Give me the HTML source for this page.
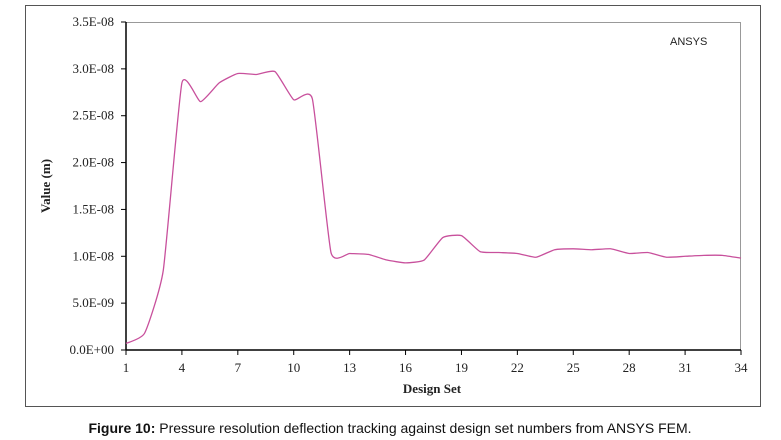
<!DOCTYPE html>
<html><head><meta charset="utf-8"><style>
body{margin:0;background:#fff;width:781px;height:440px;overflow:hidden}
svg{display:block}
.t{font-family:"Liberation Serif",serif;font-size:13px;fill:#222}
</style></head><body>
<svg width="781" height="440" xmlns="http://www.w3.org/2000/svg">
<rect x="25.5" y="5.5" width="735" height="401" fill="none" stroke="#555" stroke-width="1"/>
<line x1="126" y1="22.5" x2="741" y2="22.5" stroke="#999"/>
<line x1="740.5" y1="22" x2="740.5" y2="350" stroke="#999"/>
<line x1="126" y1="22" x2="126" y2="350" stroke="#000" stroke-width="1.5"/>
<line x1="126" y1="350" x2="741" y2="350" stroke="#000" stroke-width="1.5"/>
<g id="ax"></g>
<path id="curve" fill="none" stroke="#c8509c" stroke-width="1.3"/>
<text x="670" y="45" font-family="Liberation Sans,sans-serif" font-size="11" fill="#222">ANSYS</text>
<text x="432" y="393" class="t" font-weight="bold" text-anchor="middle">Design Set</text>
<text transform="translate(50,186) rotate(-90)" class="t" font-weight="bold" text-anchor="middle" font-size="12">Value (m)</text>
<text x="390" y="433" font-family="Liberation Sans,sans-serif" font-size="14" fill="#111" text-anchor="middle"><tspan font-weight="bold">Figure 10:</tspan> Pressure resolution deflection tracking against design set numbers from ANSYS FEM.</text>
</svg>
<script>
var ax=document.getElementById('ax'),s='';
var ylab=['0.0E+00','5.0E-09','1.0E-08','1.5E-08','2.0E-08','2.5E-08','3.0E-08','3.5E-08'];
for(var i=0;i<8;i++){var y=350-i*46.857;s+='<line x1="121" x2="126" y1="'+y+'" y2="'+y+'" stroke="#000"/><text class="t" x="114" y="'+(y+4)+'" text-anchor="end">'+ylab[i]+'</text>';}
function X(n){return 126+(n-1)*615/33;}
for(var n=1;n<=34;n+=3){var x=X(n);s+='<line x1="'+x+'" x2="'+x+'" y1="350" y2="355" stroke="#000"/><text class="t" x="'+x+'" y="372" text-anchor="middle">'+n+'</text>';}
ax.innerHTML=s;
var v=[0.07,0.18,0.85,2.85,2.65,2.85,2.95,2.94,2.97,2.67,2.68,1.04,1.03,1.02,0.96,0.93,0.96,1.2,1.22,1.05,1.04,1.03,0.99,1.07,1.08,1.07,1.08,1.03,1.04,0.99,1.0,1.01,1.01,0.98];
var p=v.map(function(d,i){return [X(i+1),350-d*93.714];});
var d='M'+p[0][0]+','+p[0][1];
for(var i=0;i<p.length-1;i++){var a=p[Math.max(i-1,0)],b=p[i],c=p[i+1],e=p[Math.min(i+2,p.length-1)];var t=0.08;
d+=' C'+(b[0]+(c[0]-a[0])*t)+','+(b[1]+(c[1]-a[1])*t)+' '+(c[0]-(e[0]-b[0])*t)+','+(c[1]-(e[1]-b[1])*t)+' '+c[0]+','+c[1];}
document.getElementById('curve').setAttribute('d',d);
</script>
</body></html>
